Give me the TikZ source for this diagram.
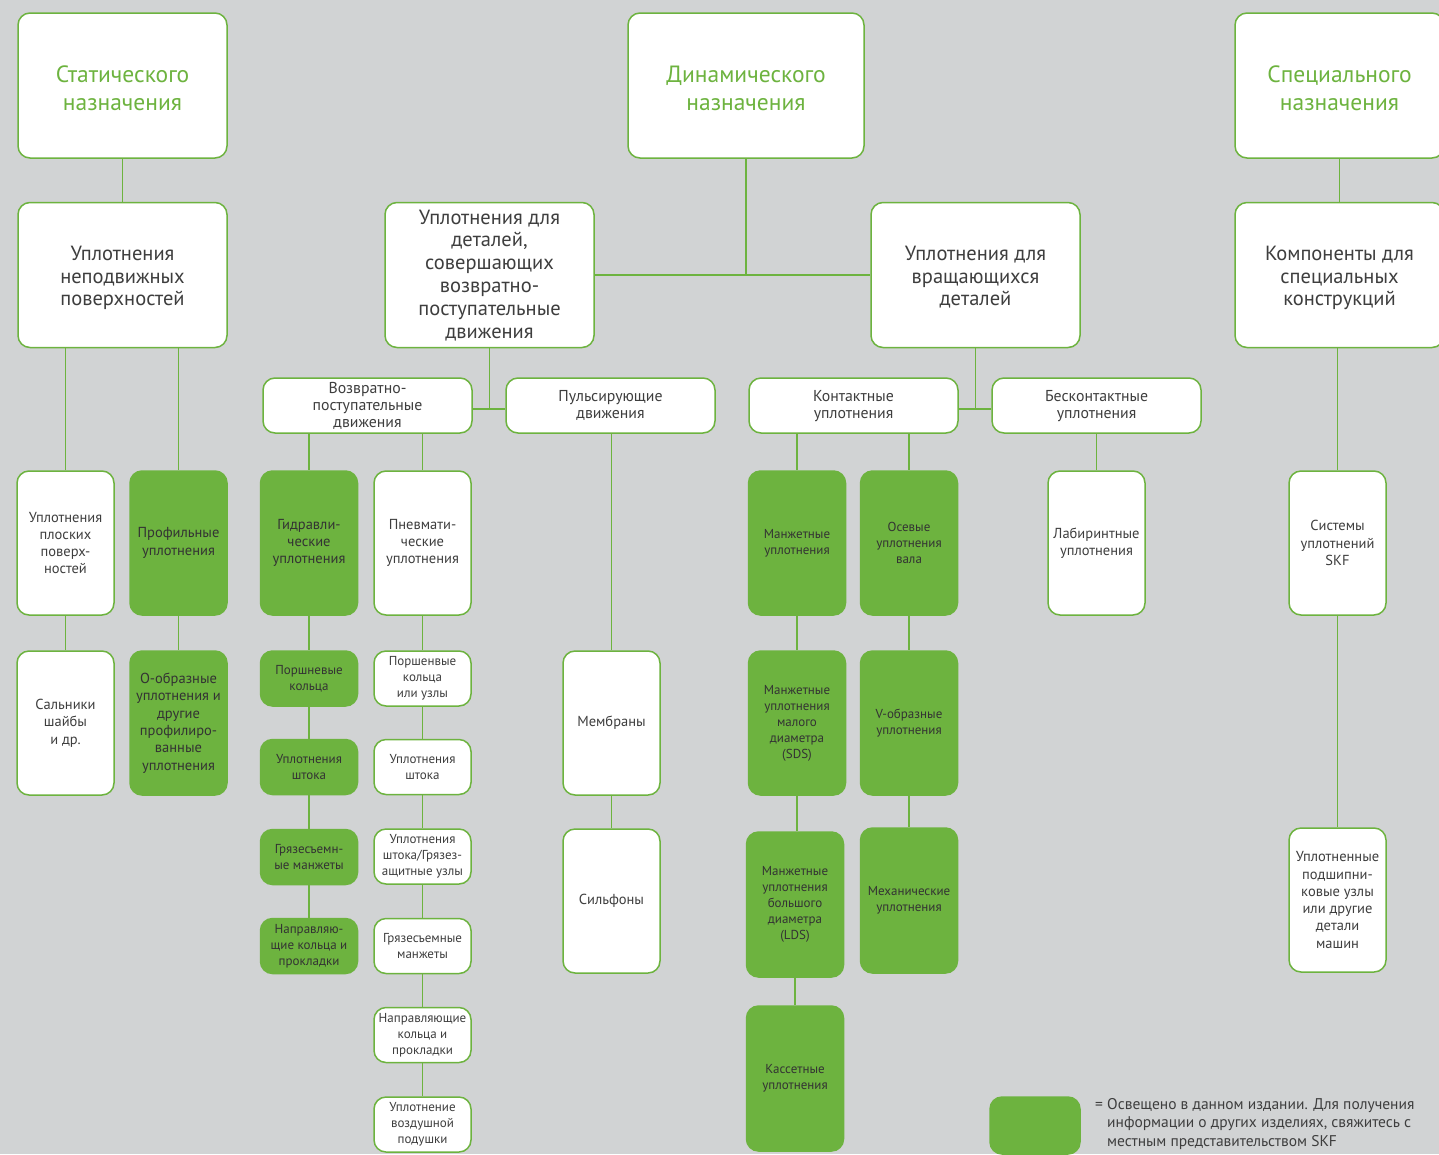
\documentclass[tikz,border=0pt]{standalone}
\usepackage{fontspec}
\setmainfont{PT Sans}
\definecolor{bg}{HTML}{D1D3D4}
\definecolor{sg}{HTML}{6DB33F}
\definecolor{tx}{HTML}{3E3E3E}
\definecolor{txg}{HTML}{333333}
\newcommand{\lowered}[2]{\raisebox{-#1}[\height][\depth]{\begin{tabular}{@{}c@{}}#2\end{tabular}}}
\begin{document}
\begin{tikzpicture}[x=1pt,y=-1pt,
  box/.style={draw=sg, line width=1.5pt, rounded corners=12pt, fill=white, align=center, inner sep=0pt, text=tx},
  gbox/.style={box, fill=sg, text=txg},
  conn/.style={draw=sg, line width=1.6pt},
  ftitle/.style={font=\fontsize{23.5}{28}\selectfont, text=sg},
  fbig/.style={font=\fontsize{20.5}{22.8}\selectfont},
  fmid/.style={font=\fontsize{15.8}{17}\selectfont},
  fsm/.style={font=\fontsize{14.5}{17.3}\selectfont},
  fxs/.style={font=\fontsize{13}{16}\selectfont},
  big/.style={minimum width=209pt, minimum height=145pt},
  wide/.style={minimum width=209pt, minimum height=55pt},
  tall/.style={minimum width=97pt, minimum height=144pt},
  low/.style={minimum width=97pt, minimum height=55pt}
]
\fill[bg] (0,0) rectangle (1439,1154);
\useasboundingbox (0,0) rectangle (1439,1154);

% row 1
\node[box, big, ftitle, minimum width=236pt] (dyn) at (746,85.5) {\lowered{5pt}{Динамического\\назначения}};
\node[box, big, ftitle] (st) at (122.5,85.5) {\lowered{5pt}{Статического\\назначения}};
\node[box, big, ftitle] (sp) at (1339.5,85.5) {\lowered{5pt}{Специального\\назначения}};

% row 2
\node[box, big, fbig] (st2) at (122.5,275) {\lowered{3.5pt}{Уплотнения\\неподвижных\\поверхностей}};
\node[box, big, fbig] (rec) at (489.5,275) {\lowered{1.5pt}{Уплотнения для\\деталей,\\совершающих\\возвратно-\\поступательные\\движения}};
\node[box, big, fbig] (rot) at (975.5,275) {\lowered{3.5pt}{Уплотнения для\\вращающихся\\деталей}};
\node[box, big, fbig] (sp2) at (1339.5,275) {\lowered{3.5pt}{Компоненты для\\специальных\\конструкций}};

% row 3
\node[box, wide, fmid] (recm) at (367.5,405.5) {Возвратно-\\поступательные\\движения};
\node[box, wide, fmid] (puls) at (610.5,405.5) {\lowered{1.5pt}{Пульсирующие\\движения}};
\node[box, wide, fmid] (cont) at (853.5,405.5) {\lowered{1.5pt}{Контактные\\уплотнения}};
\node[box, wide, fmid] (ncont) at (1096.5,405.5) {\lowered{1.5pt}{Бесконтактные\\уплотнения}};

% row 4
\node[box, tall, fsm] (flat) at (65.5,543) {Уплотнения\\плоских\\поверх-\\ностей};
\node[gbox, tall, fsm] (prof) at (178.5,543) {Профильные\\уплотнения};
\node[gbox, tall, fsm] (hyd) at (309,543) {Гидравли-\\ческие\\уплотнения};
\node[box, tall, fsm] (pne) at (422.5,543) {Пневмати-\\ческие\\уплотнения};
\node[gbox, tall, fxs] (manz) at (797,543) {Манжетные\\уплотнения};
\node[gbox, tall, fxs] (oses) at (909,543) {Осевые\\уплотнения\\вала};
\node[box, tall, fsm] (lab) at (1096.5,543) {Лабиринтные\\уплотнения};
\node[box, tall, fsm] (sys) at (1337.5,543) {Системы\\уплотнений\\SKF};

% row 5 and below
\node[box, tall, fsm] (sal) at (65.5,723) {Сальники\\шайбы\\и др.};
\node[gbox, tall, fsm] (oring) at (178.5,723) {О-образные\\уплотнения и\\другие\\профилиро-\\ванные\\уплотнения};
\node[gbox, low, fxs] (pkg) at (309,678.5) {Поршневые\\кольца};
\node[box, low, fxs] (pkw) at (422.5,678.5) {Поршенвые\\кольца\\или узлы};
\node[gbox, low, fxs] (shg) at (309,767) {Уплотнения\\штока};
\node[box, low, fxs] (shw) at (422.5,767) {Уплотнения\\штока};
\node[gbox, low, fxs] (grg) at (309,857) {Грязесъемн-\\ые манжеты};
\node[box, low, fxs] (sgw) at (422.5,856.5) {Уплотнения\\штока/Грязез-\\ащитные узлы};
\node[gbox, low, fxs] (napg) at (309,946) {Направляю-\\щие кольца и\\прокладки};
\node[box, low, fxs] (grw) at (422.5,946) {Грязесъемные\\манжеты};
\node[box, low, fxs] (napw) at (422.5,1035) {Направляющие\\кольца и\\прокладки};
\node[box, low, fxs] (air) at (422.5,1124.5) {Уплотнение\\воздушной\\подушки};

\node[box, tall, fsm] (memb) at (611.5,723) {Мембраны};
\node[box, tall, fsm] (silf) at (611.5,901) {Сильфоны};

\node[gbox, tall, fxs] (sds) at (797,723) {Манжетные\\уплотнения\\малого\\диаметра\\(SDS)};
\node[gbox, tall, fxs] (vobr) at (909,723) {V-образные\\уплотнения};
\node[gbox, tall, fxs, minimum height=145pt] (lds) at (795,904.5) {Манжетные\\уплотнения\\большого\\диаметра\\(LDS)};
\node[gbox, tall, fxs, minimum height=145pt] (mech) at (909,900.5) {Механические\\уплотнения};
\node[gbox, tall, fxs, minimum height=145pt] (kas) at (795,1078.5) {Кассетные\\уплотнения};
\node[box, tall, fsm] (bear) at (1337.5,900) {Уплотненные\\подшипни-\\ковые узлы\\или другие\\детали\\машин};

% legend
\node[gbox, minimum width=90pt, minimum height=57pt] (leg) at (1035,1125.5) {};
\node[text=tx, font=\fontsize{15.5}{18.5}\selectfont, anchor=north west, align=left, inner sep=0pt] (legt) at (1095,1098) {= Освещено в данном издании. Для получения\\\hphantom{=\ }информации о других изделиях, свяжитесь с\\\hphantom{=\ }местным представительством SKF};

% connectors
\draw[conn] (st) -- (st2);
\draw[conn] (sp) -- (sp2);
\draw[conn] (dyn.south) -- (dyn.south |- rec.east);
\draw[conn] (rec.east) -- (rot.west);
\draw[conn] (rec.south) -- (rec.south |- 0,409);
\draw[conn] (recm.east |- 0,409) -- (puls.west |- 0,409);
\draw[conn] (rot.south) -- (rot.south |- 0,409);
\draw[conn] (cont.east |- 0,409) -- (ncont.west |- 0,409);

\draw[conn] (st2.south -| flat.north) -- (flat.north);
\draw[conn] (st2.south -| prof.north) -- (prof.north);
\draw[conn] (recm.south -| hyd.north) -- (hyd.north);
\draw[conn] (recm.south -| pne.north) -- (pne.north);
\draw[conn] (cont.south -| manz.north) -- (manz.north);
\draw[conn] (cont.south -| oses.north) -- (oses.north);
\draw[conn] (ncont.south -| lab.north) -- (lab.north);
\draw[conn] (sp2.south -| sys.north) -- (sys.north);
\draw[conn] (puls.south -| memb.north) -- (memb.north);

\draw[conn] (flat) -- (sal);
\draw[conn] (prof) -- (oring);
\draw[conn] (hyd) -- (pkg);
\draw[conn] (pkg) -- (shg);
\draw[conn] (shg) -- (grg);
\draw[conn] (grg) -- (napg);
\draw[conn] (pne) -- (pkw);
\draw[conn] (pkw) -- (shw);
\draw[conn] (shw) -- (sgw);
\draw[conn] (sgw) -- (grw);
\draw[conn] (grw) -- (napw);
\draw[conn] (napw) -- (air);
\draw[conn] (memb) -- (silf);
\draw[conn] (manz) -- (sds);
\draw[conn] (sds.south) -- (sds.south |- lds.north);
\draw[conn] (lds) -- (kas);
\draw[conn] (oses) -- (vobr);
\draw[conn] (vobr) -- (mech);
\draw[conn] (sys) -- (bear);
\end{tikzpicture}
\end{document}
